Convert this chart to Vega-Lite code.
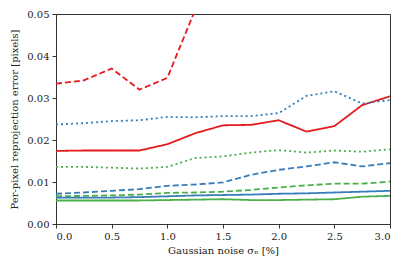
{
  "$schema": "https://vega.github.io/schema/vega-lite/v6.json",
  "autosize": {"type": "none"},
  "width": 334,
  "height": 210,
  "padding": {"left": 56, "top": 14, "right": 17, "bottom": 45},
  "config": {
    "view": {"stroke": "#333", "strokeWidth": 1},
    "font": "DejaVu Serif",
    "axis": {
      "grid": false,
      "domainColor": "#333",
      "tickColor": "#333",
      "labelColor": "#222",
      "titleColor": "#222",
      "labelFont": "DejaVu Serif",
      "titleFont": "DejaVu Serif",
      "labelFontSize": 10,
      "titleFontSize": 10,
      "titleFontWeight": "normal",
      "tickSize": 4
    }
  },
  "data": {
    "values": [
      {"x": 0, "g": "red", "s": "solid", "y": 0.0174},
      {"x": 0.25, "g": "red", "s": "solid", "y": 0.0175},
      {"x": 0.5, "g": "red", "s": "solid", "y": 0.0175},
      {"x": 0.75, "g": "red", "s": "solid", "y": 0.0175},
      {"x": 1.0, "g": "red", "s": "solid", "y": 0.0190},
      {"x": 1.25, "g": "red", "s": "solid", "y": 0.0216},
      {"x": 1.5, "g": "red", "s": "solid", "y": 0.0235},
      {"x": 1.75, "g": "red", "s": "solid", "y": 0.0236},
      {"x": 2.0, "g": "red", "s": "solid", "y": 0.0247},
      {"x": 2.25, "g": "red", "s": "solid", "y": 0.0220},
      {"x": 2.5, "g": "red", "s": "solid", "y": 0.0233},
      {"x": 2.75, "g": "red", "s": "solid", "y": 0.0283},
      {"x": 3.0, "g": "red", "s": "solid", "y": 0.0304},

      {"x": 0, "g": "red", "s": "dashed", "y": 0.0334},
      {"x": 0.25, "g": "red", "s": "dashed", "y": 0.0342},
      {"x": 0.5, "g": "red", "s": "dashed", "y": 0.0370},
      {"x": 0.75, "g": "red", "s": "dashed", "y": 0.0320},
      {"x": 1.0, "g": "red", "s": "dashed", "y": 0.0348},
      {"x": 1.25, "g": "red", "s": "dashed", "y": 0.0510},

      {"x": 0, "g": "blue", "s": "dotted", "y": 0.0237},
      {"x": 0.25, "g": "blue", "s": "dotted", "y": 0.0240},
      {"x": 0.5, "g": "blue", "s": "dotted", "y": 0.0245},
      {"x": 0.75, "g": "blue", "s": "dotted", "y": 0.0247},
      {"x": 1.0, "g": "blue", "s": "dotted", "y": 0.0255},
      {"x": 1.25, "g": "blue", "s": "dotted", "y": 0.0254},
      {"x": 1.5, "g": "blue", "s": "dotted", "y": 0.0257},
      {"x": 1.75, "g": "blue", "s": "dotted", "y": 0.0257},
      {"x": 2.0, "g": "blue", "s": "dotted", "y": 0.0264},
      {"x": 2.25, "g": "blue", "s": "dotted", "y": 0.0305},
      {"x": 2.5, "g": "blue", "s": "dotted", "y": 0.0316},
      {"x": 2.75, "g": "blue", "s": "dotted", "y": 0.0287},
      {"x": 3.0, "g": "blue", "s": "dotted", "y": 0.0295},

      {"x": 0, "g": "green", "s": "dotted", "y": 0.0136},
      {"x": 0.25, "g": "green", "s": "dotted", "y": 0.0136},
      {"x": 0.5, "g": "green", "s": "dotted", "y": 0.0134},
      {"x": 0.75, "g": "green", "s": "dotted", "y": 0.0132},
      {"x": 1.0, "g": "green", "s": "dotted", "y": 0.0136},
      {"x": 1.25, "g": "green", "s": "dotted", "y": 0.0157},
      {"x": 1.5, "g": "green", "s": "dotted", "y": 0.0161},
      {"x": 1.75, "g": "green", "s": "dotted", "y": 0.0170},
      {"x": 2.0, "g": "green", "s": "dotted", "y": 0.0176},
      {"x": 2.25, "g": "green", "s": "dotted", "y": 0.0170},
      {"x": 2.5, "g": "green", "s": "dotted", "y": 0.0175},
      {"x": 2.75, "g": "green", "s": "dotted", "y": 0.0172},
      {"x": 3.0, "g": "green", "s": "dotted", "y": 0.0178},

      {"x": 0, "g": "blue", "s": "dashed", "y": 0.0072},
      {"x": 0.25, "g": "blue", "s": "dashed", "y": 0.0075},
      {"x": 0.5, "g": "blue", "s": "dashed", "y": 0.0079},
      {"x": 0.75, "g": "blue", "s": "dashed", "y": 0.0083},
      {"x": 1.0, "g": "blue", "s": "dashed", "y": 0.0091},
      {"x": 1.25, "g": "blue", "s": "dashed", "y": 0.0094},
      {"x": 1.5, "g": "blue", "s": "dashed", "y": 0.0099},
      {"x": 1.75, "g": "blue", "s": "dashed", "y": 0.0117},
      {"x": 2.0, "g": "blue", "s": "dashed", "y": 0.0129},
      {"x": 2.25, "g": "blue", "s": "dashed", "y": 0.0137},
      {"x": 2.5, "g": "blue", "s": "dashed", "y": 0.0147},
      {"x": 2.75, "g": "blue", "s": "dashed", "y": 0.0137},
      {"x": 3.0, "g": "blue", "s": "dashed", "y": 0.0145},

      {"x": 0, "g": "green", "s": "dashed", "y": 0.0066},
      {"x": 0.25, "g": "green", "s": "dashed", "y": 0.0067},
      {"x": 0.5, "g": "green", "s": "dashed", "y": 0.0068},
      {"x": 0.75, "g": "green", "s": "dashed", "y": 0.0070},
      {"x": 1.0, "g": "green", "s": "dashed", "y": 0.0074},
      {"x": 1.25, "g": "green", "s": "dashed", "y": 0.0075},
      {"x": 1.5, "g": "green", "s": "dashed", "y": 0.0077},
      {"x": 1.75, "g": "green", "s": "dashed", "y": 0.0081},
      {"x": 2.0, "g": "green", "s": "dashed", "y": 0.0087},
      {"x": 2.25, "g": "green", "s": "dashed", "y": 0.0092},
      {"x": 2.5, "g": "green", "s": "dashed", "y": 0.0096},
      {"x": 2.75, "g": "green", "s": "dashed", "y": 0.0096},
      {"x": 3.0, "g": "green", "s": "dashed", "y": 0.0101},

      {"x": 0, "g": "blue", "s": "solid", "y": 0.0063},
      {"x": 0.25, "g": "blue", "s": "solid", "y": 0.0063},
      {"x": 0.5, "g": "blue", "s": "solid", "y": 0.0063},
      {"x": 0.75, "g": "blue", "s": "solid", "y": 0.0064},
      {"x": 1.0, "g": "blue", "s": "solid", "y": 0.0066},
      {"x": 1.25, "g": "blue", "s": "solid", "y": 0.0068},
      {"x": 1.5, "g": "blue", "s": "solid", "y": 0.0069},
      {"x": 1.75, "g": "blue", "s": "solid", "y": 0.0070},
      {"x": 2.0, "g": "blue", "s": "solid", "y": 0.0072},
      {"x": 2.25, "g": "blue", "s": "solid", "y": 0.0073},
      {"x": 2.5, "g": "blue", "s": "solid", "y": 0.0075},
      {"x": 2.75, "g": "blue", "s": "solid", "y": 0.0077},
      {"x": 3.0, "g": "blue", "s": "solid", "y": 0.0079},

      {"x": 0, "g": "green", "s": "solid", "y": 0.0056},
      {"x": 0.25, "g": "green", "s": "solid", "y": 0.0056},
      {"x": 0.5, "g": "green", "s": "solid", "y": 0.0056},
      {"x": 0.75, "g": "green", "s": "solid", "y": 0.0056},
      {"x": 1.0, "g": "green", "s": "solid", "y": 0.0057},
      {"x": 1.25, "g": "green", "s": "solid", "y": 0.0058},
      {"x": 1.5, "g": "green", "s": "solid", "y": 0.0059},
      {"x": 1.75, "g": "green", "s": "solid", "y": 0.0057},
      {"x": 2.0, "g": "green", "s": "solid", "y": 0.0057},
      {"x": 2.25, "g": "green", "s": "solid", "y": 0.0058},
      {"x": 2.5, "g": "green", "s": "solid", "y": 0.0059},
      {"x": 2.75, "g": "green", "s": "solid", "y": 0.0065},
      {"x": 3.0, "g": "green", "s": "solid", "y": 0.0067}
    ]
  },
  "mark": {"type": "line", "clip": true, "strokeWidth": 1.8},
  "encoding": {
    "x": {
      "field": "x", "type": "quantitative",
      "scale": {"domain": [0, 3], "nice": false, "zero": false},
      "axis": {"values": [0, 0.5, 1, 1.5, 2, 2.5, 3], "format": ".1f", "title": "Gaussian noise σₙ [%]", "labelPadding": 3, "titlePadding": 4}
    },
    "y": {
      "field": "y", "type": "quantitative",
      "scale": {"domain": [0, 0.05], "nice": false},
      "axis": {"values": [0, 0.01, 0.02, 0.03, 0.04, 0.05], "format": ".2f", "title": "Per-pixel reprojection error [pixels]", "labelPadding": 3, "titlePadding": 7}
    },
    "color": {
      "field": "g", "type": "nominal",
      "scale": {"domain": ["red", "blue", "green"], "range": ["#e41a1c", "#377eb8", "#4daf4a"]},
      "legend": null
    },
    "strokeDash": {
      "field": "s", "type": "nominal",
      "scale": {"domain": ["solid", "dashed", "dotted"], "range": [[1, 0], [6, 3], [2, 3]]},
      "legend": null
    },
    "detail": {"field": "s"}
  }
}
